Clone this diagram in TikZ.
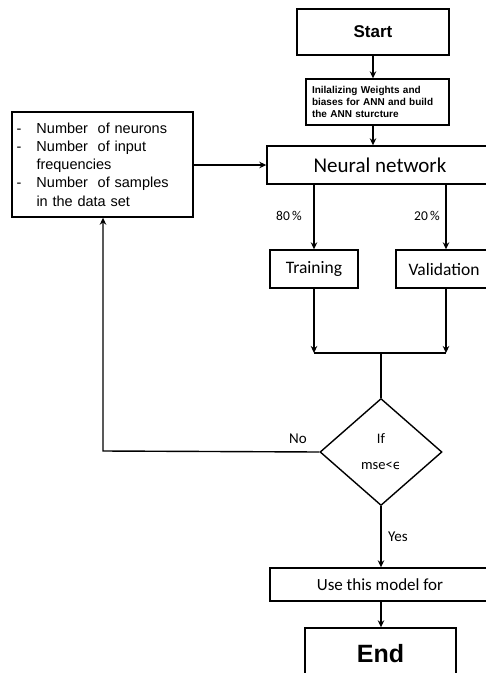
\documentclass[tikz,border=0pt]{standalone}
\usepackage{fontspec}
\setmainfont{Liberation Sans}
\newfontfamily\carl{Carlito}
\newfontfamily\dejavu{DejaVu Sans}
\usetikzlibrary{arrows.meta,shapes.geometric}
\newcommand{\itemdash}{\makebox[20pt][l]{-}}
\begin{document}
\begin{tikzpicture}[x=1pt,y=-1pt,
  line width=1.4pt,
  box/.style={draw,inner sep=0pt,align=center},
  arr/.style={-{Stealth[length=7pt,width=6.5pt]}},
  lbl/.style={inner sep=0pt,font=\carl\fontsize{13.5}{16}\selectfont}]
\useasboundingbox (0,0) rectangle (486,673);
\clip (0,0) rectangle (486,673);

% boxes of the main column
\node[box,minimum width=152pt,minimum height=46pt,
      font=\bfseries\fontsize{17}{20}\selectfont] (start) at (373,32) {Start};
\node[box,minimum width=143pt,minimum height=46pt,text width=131pt,align=left,
      font=\bfseries\fontsize{10}{12}\selectfont] (init) at (377.5,102)
      {Inilalizing Weights and\\biases for ANN and build\\the ANN sturcture};
\node[box,minimum width=226pt,minimum height=38pt,
      font=\carl\fontsize{21}{24}\selectfont] (nn) at (380,165) {Neural network};
\node[box,minimum width=181pt,minimum height=105pt,text width=172pt,align=left,
      font=\fontsize{14.5}{18.3}\selectfont] (params) at (102.5,164.5)
      {\itemdash Number\ \ of neurons\\
       \itemdash Number\ \ of input\\
       \hspace*{20pt}frequencies\\
       \itemdash Number\ \ of samples\\
       \hspace*{20pt}in the data set};
\node[box,minimum width=88pt,minimum height=38pt,
      font=\carl\fontsize{17.5}{20}\selectfont] (train) at (314,269) {Training};
\node[box,minimum width=96pt,minimum height=38pt,
      font=\carl\fontsize{17.5}{20}\selectfont] (valid) at (444,269) {Validation};
\node[draw,shape=diamond,inner sep=0pt,minimum width=122pt,minimum height=107pt,
      align=center,font=\carl\fontsize{14.5}{17}\selectfont] (test) at (381,452)
      {If\\[9pt]mse<{\dejavu\fontsize{13}{16}\selectfont ϵ}};
\node[box,minimum width=220pt,minimum height=33pt,
      font=\carl\fontsize{17}{20}\selectfont] (use) at (380,584.5) {Use this model for};
\node[box,minimum width=151pt,minimum height=52pt,
      font=\bfseries\fontsize{25}{28}\selectfont] (end) at (380.5,654) {End};

% helper points
\coordinate (trainin) at (314,184);
\coordinate (validin) at (446,184);
\coordinate (jl) at (314,353);
\coordinate (jr) at (446,353);
\coordinate (jm) at (381,353);
\coordinate (back) at (103,451);

% connectors
\draw[arr] (start.south) -- (start.south |- init.north);
\draw[arr] (init.south -| start.south) -- (nn.north -| start.south);
\draw[arr] (params.east |- nn.west) -- (nn.west);
\draw[arr] (trainin) -- (train.north);
\draw[arr] (validin) -- (validin |- valid.north);
\draw[arr] (train.south) -- (jl);
\draw[arr] (valid.south -| jr) -- (jr);
\draw (jl) -- (jr);
\draw (jm) -- (test.north);
\draw[arr] (test.west) -- (back) -- (back |- params.south);
\draw[arr] (test.south) -- (use.north -| test.south);
\draw[arr] (use.south -| test.south) -- (end.north -| test.south);

% labels
\node[lbl] (p80) at (289,216) {80\,\%};
\node[lbl] (p20) at (427,216) {20\,\%};
\node[lbl,font=\carl\fontsize{15}{18}\selectfont] (no) at (298,439) {No};
\node[lbl,font=\carl\fontsize{15}{18}\selectfont] (yes) at (398,537) {Yes};
\end{tikzpicture}
\end{document}
